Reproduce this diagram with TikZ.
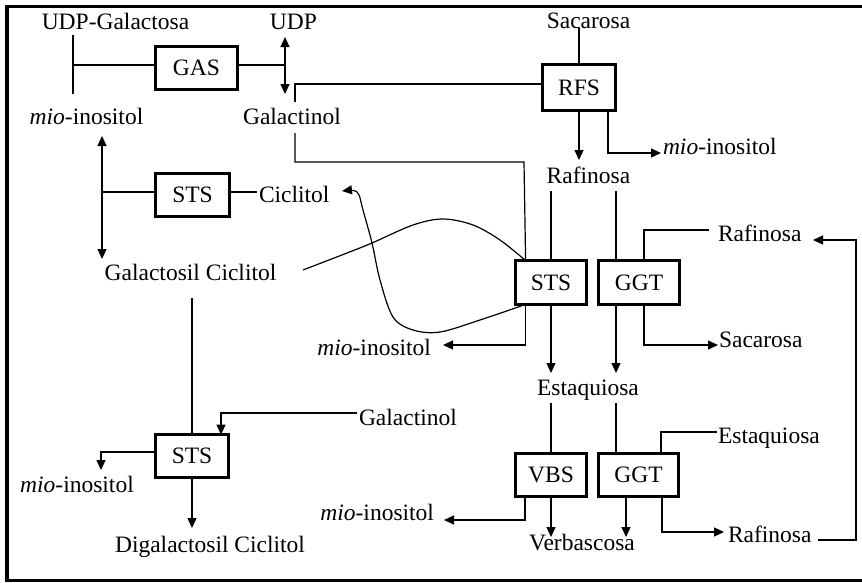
\documentclass[tikz,border=0pt]{standalone}
\usepackage{fontspec}
\setmainfont{Liberation Serif}
\usetikzlibrary{arrows.meta}
\begin{document}
\begin{tikzpicture}[x=1pt,y=-1pt,
  lbl/.style={inner sep=0pt, outer sep=0pt, anchor=base, font=\fontsize{23.5}{28}\selectfont},
  enz/.style={draw, line width=3.2pt, inner sep=0pt, outer sep=0pt, fill=white,
              font=\fontsize{23.5}{28}\selectfont},
  conn/.style={line width=1.2pt},
  arr/.style={conn, -{Triangle[length=10pt,width=9pt]}},
  dbl/.style={conn, {Triangle[length=10pt,width=9pt]}-{Triangle[length=10pt,width=9pt]}}]
\useasboundingbox (0,0) rectangle (862,582);

% open frame (left, top and bottom edges)
\draw[line width=3.5pt] (862,6.5) -- (7,6.5) -- (7,580.5) -- (862,580.5);

% ---------- metabolites ----------
\node[lbl] (udpgal) at (115.5,29) {UDP-Galactosa};
\node[lbl] (udp) at (293.5,29) {UDP};
\node[lbl] (sacT) at (588.5,28) {Sacarosa};
\node[lbl] (mioTL) at (86.5,124) {\textit{mio}-inositol};
\node[lbl] (galT) at (292,124) {Galactinol};
\node[lbl, anchor=base west] (mioR) at (663,154) {\textit{mio}-inositol};
\node[lbl] (rafM) at (588.5,183) {Rafinosa};
\node[lbl, anchor=base west] (cic) at (259,202) {Ciclitol};
\node[lbl, anchor=base west] (rafR) at (718,241) {Rafinosa};
\node[lbl] (galcic) at (190.5,280) {Galactosil Ciclitol};
\node[lbl, anchor=base west] (sacR) at (719,347) {Sacarosa};
\node[lbl, anchor=base east] (mioM) at (431,355) {\textit{mio}-inositol};
\node[lbl] (estM) at (588,395) {Estaquiosa};
\node[lbl, anchor=base west] (galB) at (359,425) {Galactinol};
\node[lbl, anchor=base west] (estR) at (718,443) {Estaquiosa};
\node[lbl] (mioBL) at (77,492) {\textit{mio}-inositol};
\node[lbl, anchor=base east] (mioBM) at (434,520) {\textit{mio}-inositol};
\node[lbl, anchor=base west] (rafBR) at (728,542) {Rafinosa};
\node[lbl] (verb) at (582,550) {Verbascosa};
\node[lbl] (digal) at (210,552) {Digalactosil Ciclitol};

% ---------- enzymes ----------
\node[enz, minimum width=81.8, minimum height=42.8] (gas) at (196.5,68) {GAS};
\node[enz, minimum width=72.8, minimum height=45.8] (rfs) at (579,87.5) {RFS};
\node[enz, minimum width=73.8, minimum height=42.8] (stsL) at (192.5,195) {STS};
\node[enz, minimum width=70.8, minimum height=43.8] (stsM) at (551,282.5) {STS};
\node[enz, minimum width=80.8, minimum height=43.8] (ggtA) at (639,282.5) {GGT};
\node[enz, minimum width=72.8, minimum height=42.8] (stsB) at (192,456) {STS};
\node[enz, minimum width=70.8, minimum height=42.8] (vbs) at (551,475) {VBS};
\node[enz, minimum width=79.8, minimum height=42.8] (ggtB) at (638.5,475) {GGT};

% ---------- GAS ----------
\coordinate (gasTop) at (73,35);
\coordinate (gasBot) at (73,94);
\coordinate (gasIn) at (73,65);
\coordinate (gasOut) at (285,65);
\coordinate (udpTip) at (285,37);
\coordinate (galTip) at (285,94);
\draw[conn] (gasTop) -- (gasBot);
\draw[conn] (gasIn) -- (gasIn -| gas.west);
\draw[conn] (gasOut -| gas.east) -- (gasOut);
\draw[dbl] (udpTip) -- (galTip);

% ---------- RFS ----------
\coordinate (g1) at (295,102);
\coordinate (g1b) at (295,84);
\draw[conn] (g1) -- (g1b) -- (g1b -| rfs.west);
\coordinate (sacLine) at (579,28);
\draw[conn] (sacLine) -- (rfs.north);
\coordinate (rafTip) at (579,160);
\draw[arr] (rfs.south) -- (rafTip);
\coordinate (rfsOut) at ([xshift=29pt]rfs.south);
\coordinate (mioRtip) at (661,153);
\draw[arr] (rfsOut) |- (mioRtip);

% ---------- STS (galactosil ciclitol) ----------
\coordinate (mioUp) at (102,136);
\coordinate (gcDown) at (102,259);
\coordinate (stsLj) at (102,192);
\coordinate (cicL) at (257,192);
\draw[dbl] (mioUp) -- (gcDown);
\draw[conn] (stsLj) -- (stsLj -| stsL.west);
\draw[conn] (stsL.east |- cicL) -- (cicL);

% ---------- STS / GGT (estaquiosa) ----------
\coordinate (stsMtl) at ([xshift=10pt]stsM.north west);
\coordinate (stsMbl) at ([xshift=10pt]stsM.south west);
\coordinate (g2) at (295,133);
\coordinate (g2c) at (524,162);
\draw[conn] (g2) |- (g2c) -- (stsMtl);

\draw[arr] plot[smooth, tension=0.55] coordinates
  {(stsMbl) (480,320) (440,332) (413,330) (393,317) (380,280) (372,243)
   (363,210) (359,195) (354,190.5) (342,191)};
\draw[conn] plot[smooth, tension=0.55] coordinates
  {(303,270) (347,253) (372,243) (413,225) (443,219) (473,225) (500,240) (stsMtl)};

\coordinate (rafL1) at (551,191);
\coordinate (rafL2) at (616,191);
\draw[conn] (rafL1) -- (stsM.north);
\draw[conn] (rafL2) -- (rafL2 |- ggtA.north);
\coordinate (estTip1) at (551,373);
\coordinate (estTip2) at (616,373);
\draw[arr] (stsM.south) -- (estTip1);
\draw[arr] (estTip2 |- ggtA.south) -- (estTip2);
\coordinate (ggtAin) at (644,230);
\coordinate (rafRend) at (709,230);
\draw[conn] (ggtAin |- ggtA.north) -- (ggtAin) -- (rafRend);
\coordinate (ggtAout) at (644,345);
\coordinate (sacTip) at (718,345);
\draw[arr] (ggtAout |- ggtA.south) -- (ggtAout) -- (sacTip);
\coordinate (mioMtip) at (443,345);
\draw[arr] (stsMbl) |- (mioMtip);

% recycled rafinosa
\coordinate (fbS) at (818,540);
\coordinate (fbR) at (856,540);
\coordinate (fbTip) at (813,240);
\draw[arr] (fbS) -- (fbR) |- (fbTip);

% ---------- STS (digalactosil ciclitol) ----------
\coordinate (gcLine) at (192,298);
\draw[conn] (gcLine) -- (stsB.north);
\coordinate (galBl) at (357,413);
\coordinate (galBc) at (221,413);
\draw[arr] (galBl) -- (galBc) -- (galBc |- stsB.north);
\coordinate (stsBw) at (101,452);
\coordinate (mioBLtip) at (101,470);
\draw[arr] (stsBw -| stsB.west) -- (stsBw) -- (mioBLtip);
\coordinate (digTip) at (192,528);
\draw[arr] (stsB.south) -- (digTip);

% ---------- VBS / GGT (verbascosa) ----------
\coordinate (estL1) at (551,403);
\coordinate (estL2) at (616,403);
\draw[conn] (estL1) -- (vbs.north);
\draw[conn] (estL2) -- (estL2 |- ggtB.north);
\coordinate (ggtBin) at (661,432);
\coordinate (estRend) at (717,432);
\draw[conn] (ggtBin |- ggtB.north) -- (ggtBin) -- (estRend);
\coordinate (verbTip1) at (551,537);
\coordinate (verbTip2) at (626,537);
\draw[arr] (vbs.south) -- (verbTip1);
\draw[arr] (verbTip2 |- ggtB.south) -- (verbTip2);
\coordinate (vbsOut) at (525,520);
\coordinate (mioBMtip) at (444,520);
\draw[arr] (vbsOut |- vbs.south) -- (vbsOut) -- (mioBMtip);
\coordinate (ggtBout) at (662,532);
\coordinate (rafBRtip) at (724,532);
\draw[arr] (ggtBout |- ggtB.south) -- (ggtBout) -- (rafBRtip);
\end{tikzpicture}
\end{document}
